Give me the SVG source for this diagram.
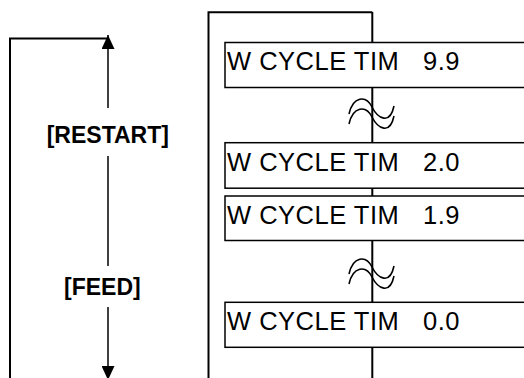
<svg xmlns="http://www.w3.org/2000/svg" width="524" height="378" viewBox="0 0 524 378">
<defs>
<style>
.ln{stroke:#000;stroke-width:2;fill:none}
.thin{stroke:#000;stroke-width:1.5;fill:none}
.box{fill:#fff;stroke:#000;stroke-width:1.5}
.lbl{font-family:"Liberation Sans",Arial,sans-serif;font-size:25.5px;letter-spacing:0.5px;fill:#000}
.key{font-family:"Liberation Sans",Arial,sans-serif;font-size:23px;font-weight:bold;fill:#000}
.sq{stroke:#000;stroke-width:1.6;fill:none}
</style>
<marker id="ah" markerUnits="userSpaceOnUse" viewBox="0 0 14 13" refX="14" refY="6.5" markerWidth="14" markerHeight="13" orient="auto">
<path d="M0 0 L14 6.5 L0 13 Z" fill="#000"/>
</marker>
<path id="tilde" d="M -23 2 C -19 -16, -6 -17, 0 -5 C 6 7, 18 13, 22 -6"/>
</defs>
<rect width="524" height="378" fill="#fff"/>
<g id="frame">
<path class="ln" d="M208.5 378 V12.3 H372.3"/>
</g>
<g id="connectors">
<line class="ln" x1="372.3" y1="12" x2="372.3" y2="378"/>
<path class="ln" d="M10 378 V38.5 H108"/>
<line class="thin" x1="108" y1="108" x2="108" y2="35" marker-end="url(#ah)"/>
<line class="thin" x1="108" y1="156" x2="108" y2="266"/>
<line class="thin" x1="108" y1="307" x2="108" y2="380" marker-end="url(#ah)"/>
<use href="#tilde" class="sq" transform="translate(372 112)"/>
<use href="#tilde" class="sq" transform="translate(372 122)"/>
<use href="#tilde" class="sq" transform="translate(372 272)"/>
<use href="#tilde" class="sq" transform="translate(372 282)"/>
</g>
<g id="label-restart"><text class="key" x="46.7" y="143">[RESTART]</text></g>
<g id="label-feed"><text class="key" x="64" y="295">[FEED]</text></g>
<g id="box-9-9">
<rect class="box" x="225" y="42.5" width="310" height="45"/>
<text class="lbl" x="227" y="70">W CYCLE TIM <tspan x="423">9.9</tspan></text>
</g>
<g id="box-2-0">
<rect class="box" x="225" y="142.7" width="310" height="45.5"/>
<text class="lbl" x="227" y="171">W CYCLE TIM <tspan x="423">2.0</tspan></text>
</g>
<g id="box-1-9">
<rect class="box" x="225" y="196" width="310" height="44.5"/>
<text class="lbl" x="227" y="224">W CYCLE TIM <tspan x="423">1.9</tspan></text>
</g>
<g id="box-0-0">
<rect class="box" x="225" y="302.3" width="310" height="45"/>
<text class="lbl" x="227" y="330">W CYCLE TIM <tspan x="423">0.0</tspan></text>
</g>
</svg>
